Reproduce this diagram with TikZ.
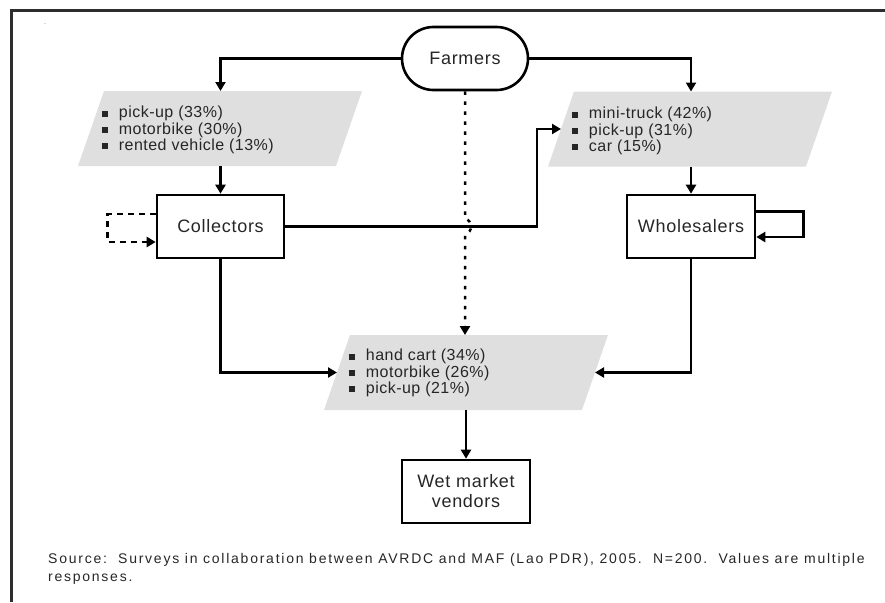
\documentclass[tikz,border=0pt]{standalone}
\usepackage{fontspec}
\setmainfont{Liberation Sans}
\newfontfamily\lsfont[LetterSpace=4]{Liberation Sans}
\newfontfamily\lsfontb[LetterSpace=3]{Liberation Sans}
\newfontfamily\lsfontc[LetterSpace=12.5]{Liberation Sans}
\usetikzlibrary{arrows.meta,shapes.geometric,shapes.misc,calc}
\definecolor{pgray}{RGB}{223,223,223}
\definecolor{framecol}{RGB}{45,45,45}
\newcommand{\bsq}{\raisebox{1.3pt}{\rule{5.7pt}{5.7pt}}\hspace{11pt}}
% parallelogram centred at (#2,#3): top width 258, height 75, slant 26
\newcommand{\mypara}[3]{%
  \fill[pgray] ($(#2,#3)+(-116,-37.5)$) -- ($(#2,#3)+(142,-37.5)$) -- ($(#2,#3)+(116,37.5)$) -- ($(#2,#3)+(-142,37.5)$) -- cycle;
  \coordinate (#1-n) at ($(#2,#3)+(13,-37.5)$);
  \coordinate (#1-s) at ($(#2,#3)+(-13,37.5)$);
  \coordinate (#1-w) at ($(#2,#3)+(-129,0)$);
  \coordinate (#1-e) at ($(#2,#3)+(129,0)$);
}
\begin{document}
\begin{tikzpicture}[x=1pt,y=-1pt,
  box/.style={draw, line width=2.6pt, rectangle, inner sep=0pt, align=center,
    font=\lsfont\fontsize{18}{20}\selectfont, text=black!85},
  term/.style={draw, line width=2.6pt, rounded rectangle, inner sep=0pt,
    minimum width=126pt, minimum height=63pt, font=\lsfont\fontsize{18}{20}\selectfont, text=black!85},
  listtxt/.style={inner sep=0pt, align=left, font=\lsfontb\fontsize{16}{16.3}\selectfont, text=black!85},
  conn/.style={line width=2.5pt, -{Triangle[length=9pt,width=10pt]}},
  dashconn/.style={conn, dash pattern=on 6pt off 5pt},
  dotconn/.style={conn, dash pattern=on 3.5pt off 6.5pt},
]
\useasboundingbox (0,0) rectangle (885,602);
% frame
\draw[line width=3pt, framecol] (11.5,602) -- (11.5,11) -- (885,11);
\node[font=\fontsize{7}{7}\selectfont, text=black!60] (dot) at (45,24) {.};

% parallelograms
\mypara{lp}{220}{128.5}
\mypara{rp}{690}{129}
\mypara{bp}{466}{372.5}

% nodes
\node[term] (F) at (465,58.5) {Farmers};
\node[box, minimum width=127pt, minimum height=63pt] (C) at (220.5,226.5) {Collectors};
\node[box, minimum width=128pt, minimum height=63pt] (W) at (691,226.5) {Wholesalers};
\node[box, minimum width=128pt, minimum height=63pt] (V) at (466,491.5) {Wet market\\vendors};

% list texts
\node[listtxt, anchor=west] (lpt) at (102,130) {\bsq pick-up (33\%)\\\bsq motorbike (30\%)\\\bsq rented vehicle (13\%)};
\node[listtxt, anchor=west] (rpt) at (572,131) {\bsq mini-truck (42\%)\\\bsq pick-up (31\%)\\\bsq car (15\%)};
\node[listtxt, anchor=west] (bpt) at (349,373) {\bsq hand cart (34\%)\\\bsq motorbike (26\%)\\\bsq pick-up (21\%)};

% connectors
\draw[conn] (F.west) -| (C |- lp-n);
\draw[conn] (C |- lp-s) -- (C.north);
\draw[conn] (F.east) -| (W |- rp-n);
\draw[conn] (W |- rp-s) -- (W.north);
\draw[conn] (C.east) -| ($(rp-w)+(-24,0)$) -- (rp-w);
\draw[dashconn] ($(C.west)+(0,-12.5)$) -- ++(-48,0) |- ($(C.west)+(0,15.5)$);
\draw[conn] ($(W.east)+(0,-15)$) -- ++(47,0) |- ($(W.east)+(0,10.5)$);
\draw[conn] (C.south) |- (bp-w);
\draw[conn] (W.south) |- (bp-e);
\draw[dotconn] (F.south) -- ($(F |- C)+(0,-8)$) .. controls +(8,2) and +(8,-2) .. ($(F |- C)+(0,8)$) -- (F |- bp-n);
\draw[conn] (V |- bp-s) -- (V.north);

% source
\node[anchor=west, inner sep=0pt, align=left, font=\lsfontc\fontsize{14}{18}\selectfont, text=black!85] (src) at (48,569)
  {Source:\ \ Surveys in collaboration between AVRDC and MAF (Lao PDR), 2005.\ \ N=200.\ \ Values are multiple\\responses.};
\end{tikzpicture}
\end{document}
